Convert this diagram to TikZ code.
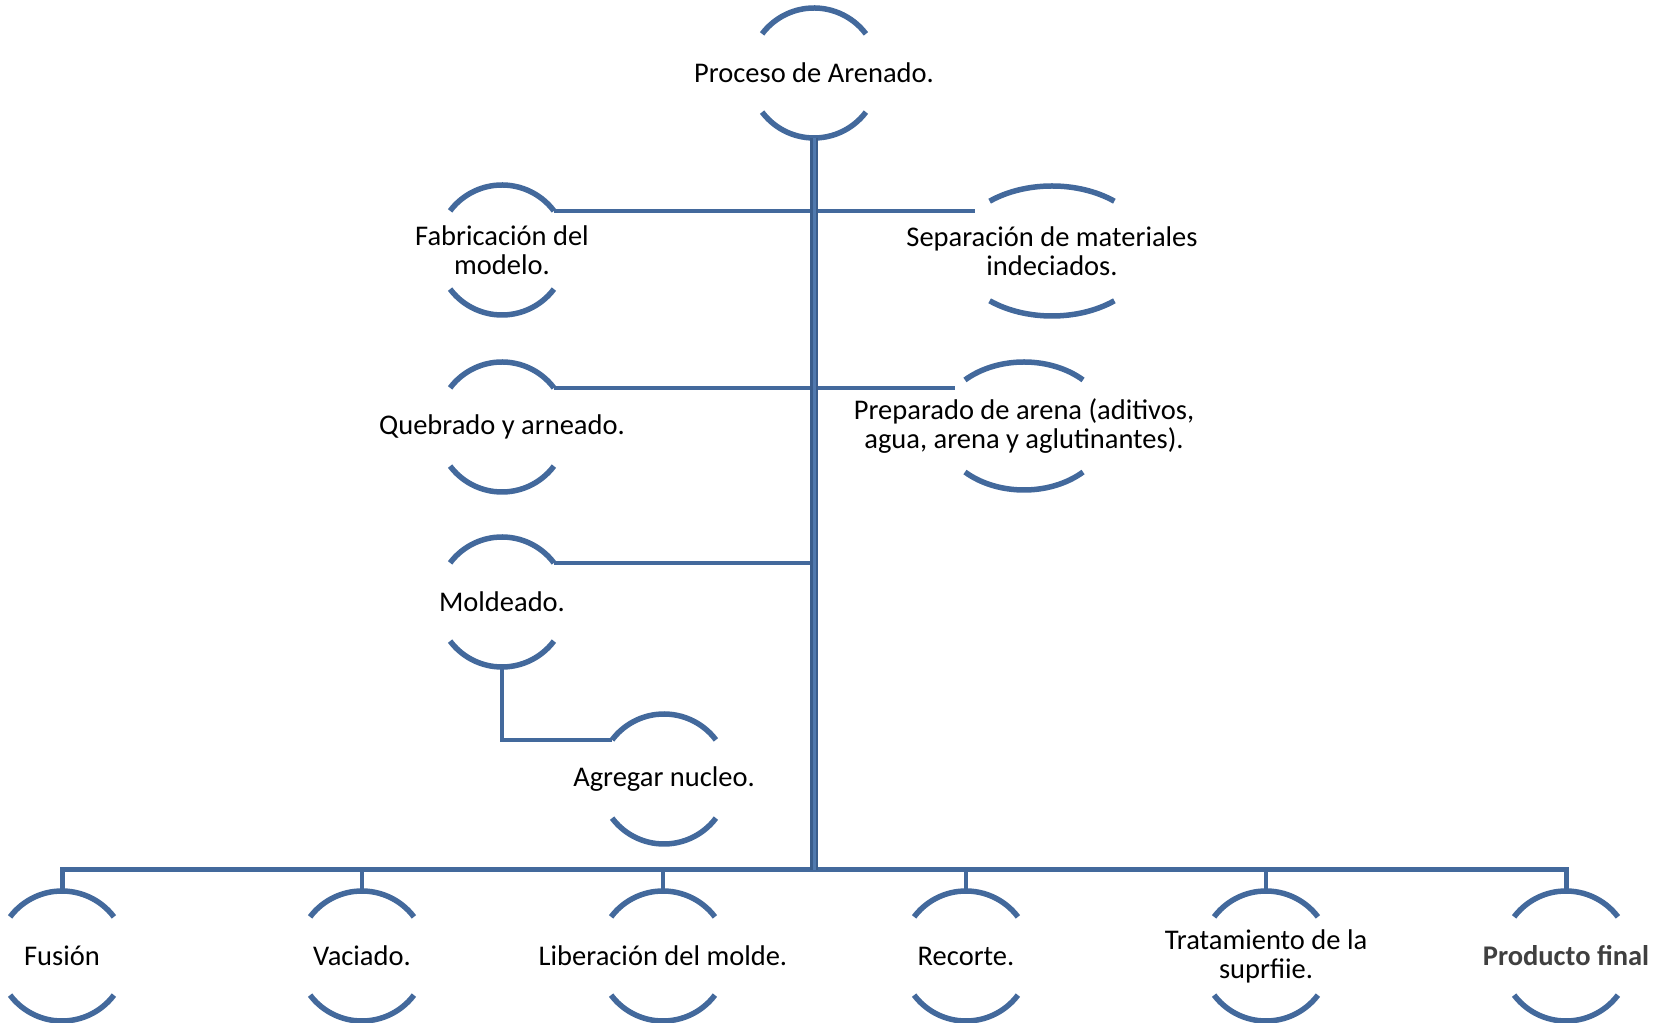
\documentclass[tikz,border=0pt]{standalone}
\usepackage{fontspec}
\setmainfont{Carlito}
\usetikzlibrary{calc}
\definecolor{arcblue}{HTML}{43699C}
\definecolor{trunkdark}{HTML}{3A5D8C}
\definecolor{trunklight}{HTML}{5079AE}
\definecolor{boldgray}{HTML}{404040}
\newcommand\twoarcs[4]{%
  \draw[arcline] (#1.center) ++(#4:#2 and #3) arc[start angle=#4, end angle={180-#4}, x radius=#2, y radius=#3];
  \draw[arcline] (#1.center) ++(-#4:#2 and #3) arc[start angle=-#4, end angle={-180+#4}, x radius=#2, y radius=#3];
}
\begin{document}
\begin{tikzpicture}[x=1pt,y=1pt,
  lbl/.style={align=center, inner sep=0pt, font=\fontsize{28.5}{29}\selectfont, text=black},
  arcline/.style={draw=arcblue, line width=5.5pt},
  conn/.style={draw=arcblue, line width=4.5pt},
  busline/.style={draw=arcblue, line width=5pt, line join=miter},
  trunkline/.style={draw=trunkdark, line width=2.5pt, double=trunklight, double distance=3pt}]
\useasboundingbox (0,0) rectangle (1669,1022);

% nodes
\node[lbl] (proc) at (814,949) {Proceso de Arenado.};
\node[lbl] (fab)  at (502,772) {Fabricación del\\modelo.};
\node[lbl] (sep)  at (1052,771) {Separación de materiales\\indeciados.};
\node[lbl] (queb) at (502,595) {Quebrado y arneado.};
\node[lbl] (prep) at (1024,596) {Preparado de arena (aditivos,\\agua, arena y aglutinantes).};
\node[lbl] (mold) at (502,420) {Moldeado.};
\node[lbl] (agr)  at (664,243) {Agregar nucleo.};
\node[lbl] (fus)  at (62,66)   {Fusión};
\node[lbl] (vac)  at (362,66)  {Vaciado.};
\node[lbl] (lib)  at (663,66)  {Liberación del molde.};
\node[lbl] (rec)  at (966,66)  {Recorte.};
\node[lbl] (tra)  at (1266,66) {Tratamiento de la\\suprfiie.};
\node[lbl, text=boldgray, font=\fontsize{28.5}{29}\selectfont\bfseries] (prod) at (1566,66) {Producto final};

% arcs
\twoarcs{proc}{65pt}{65pt}{37}
\twoarcs{fab}{65pt}{65pt}{37}
\twoarcs{sep}{97pt}{65pt}{50}
\twoarcs{queb}{65pt}{65pt}{37}
\twoarcs{prep}{85pt}{64pt}{46}
\twoarcs{mold}{65pt}{65pt}{37}
\twoarcs{agr}{65pt}{65pt}{37}
\twoarcs{fus}{65pt}{65pt}{37}
\twoarcs{vac}{65pt}{65pt}{37}
\twoarcs{lib}{65pt}{65pt}{37}
\twoarcs{rec}{65pt}{65pt}{37}
\twoarcs{tra}{65pt}{65pt}{37}
\twoarcs{prod}{65pt}{65pt}{37}

% anchor coordinates
\coordinate (procB) at ($(proc.center)+(0,-65)$);
\coordinate (busJ)  at (814,152);
\coordinate (fabR)  at ($(fab.center)+(37:65pt)$);
\coordinate (quebR) at ($(queb.center)+(37:65pt)$);
\coordinate (moldR) at ($(mold.center)+(37:65pt)$);
\coordinate (moldB) at ($(mold.center)+(0,-65)$);
\coordinate (agrL)  at ($(agr.center)+(143:65pt)$);
\coordinate (sepL)  at ($(sep.center)+(-77,0)$);
\coordinate (prepL) at ($(prep.center)+(-69,0)$);
\coordinate (fusT)  at ($(fus.center)+(0,65)$);
\coordinate (vacT)  at ($(vac.center)+(0,65)$);
\coordinate (libT)  at ($(lib.center)+(0,65)$);
\coordinate (recT)  at ($(rec.center)+(0,65)$);
\coordinate (traT)  at ($(tra.center)+(0,65)$);
\coordinate (prodT) at ($(prod.center)+(0,65)$);

% connectors
\draw[conn] (fabR) -- (fabR -| sepL);
\draw[conn] (quebR) -- (quebR -| prepL);
\draw[conn] (moldR) -- (moldR -| procB);
\draw[conn] (moldB) |- (agrL);
\draw[busline] (fusT) |- (busJ) -| (prodT);
\draw[conn] (vacT) -- (vacT |- busJ);
\draw[conn] (libT) -- (libT |- busJ);
\draw[conn] (recT) -- (recT |- busJ);
\draw[conn] (traT) -- (traT |- busJ);
\draw[trunkline] (procB) -- (busJ);
\end{tikzpicture}
\end{document}
